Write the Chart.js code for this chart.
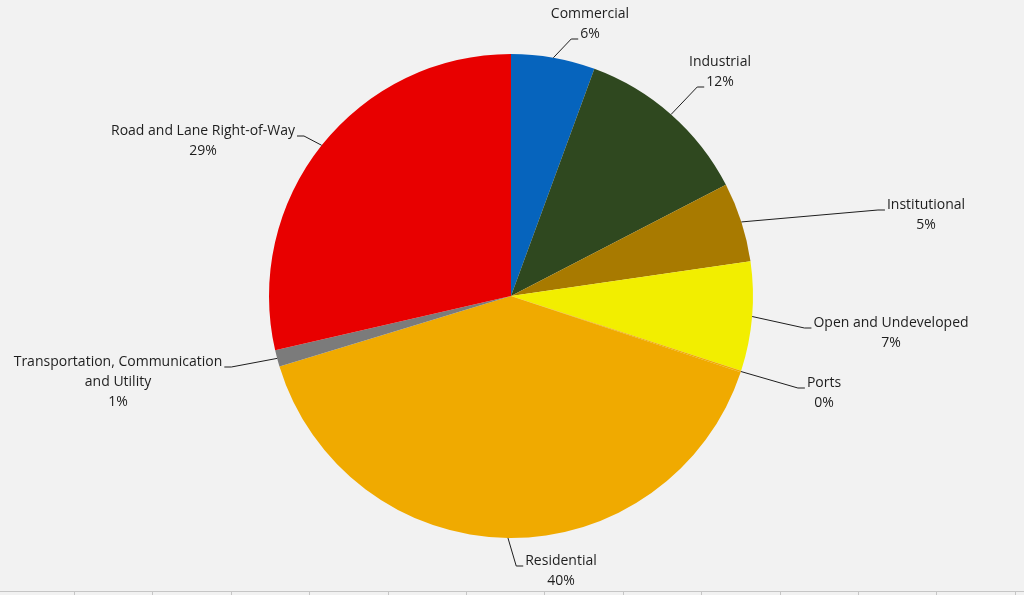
<!DOCTYPE html>
<html>
<head>
<meta charset="utf-8">
<script src="https://cdn.jsdelivr.net/npm/chart.js@4/dist/chart.umd.min.js"></script>
<style>
  html, body { margin: 0; padding: 0; background: #f2f2f2; }
  #wrap { position: relative; width: 1024px; height: 595px; overflow: hidden; }
  #grid {
    position: absolute; left: 0; top: 591px; width: 1024px; height: 4px;
    border-top: 1px solid #c6c6c6;
    background: repeating-linear-gradient(to right, transparent 0, transparent 74px, #c6c6c6 74px, #c6c6c6 75px, transparent 75px, transparent 78.4px);
  }
</style>
</head>
<body>
<div id="wrap">
  <canvas id="landUseChart" width="1024" height="595"></canvas>
  <div id="grid"></div>
</div>
<script>
// land use categories, clockwise from 12 o'clock
const categories = ['Commercial', 'Industrial', 'Institutional', 'Open and Undeveloped', 'Ports',
    'Residential', 'Transportation, Communication and Utility', 'Road and Lane Right-of-Way'];
const shares = [5.6, 11.8, 5.3, 7.3, 0.1, 40.2, 1.1, 28.6];
const percentLabels = ['6%', '12%', '5%', '7%', '0%', '40%', '1%', '29%'];
const sliceColors = ['#0664bd', '#2f481f', '#a87a00', '#f2ee00', '#f0aa00', '#f0aa00', '#7b7b7b', '#e80000'];

// label text lines (category name may wrap) and where each label sits relative to pie centre
const labelLines = [['Commercial'], ['Industrial'], ['Institutional'], ['Open and Undeveloped'], ['Ports'],
    ['Residential'], ['Transportation, Communication', 'and Utility'], ['Road and Lane Right-of-Way']];
const labelOffsets = [[79, -282], [209, -234], [415, -91], [380, 27], [313, 87], [50, 265], [-393, 66], [-308, -165]];
const leaderLine = [1, 1, 0, 0, 0, 0, 0, 0];

const labelPlugin = {
    id: 'pieLabels',
    afterDraw(chart) {
        const ctx = chart.ctx;
        const arcs = chart.getDatasetMeta(0).data;
        const lineH = 20;
        ctx.save();
        ctx.font = '14px "Open Sans", "Liberation Sans", sans-serif';
        ctx.fillStyle = '#1e1e1e';
        ctx.strokeStyle = '#1e1e1e';
        ctx.lineWidth = 1;
        ctx.textAlign = 'center';
        ctx.textBaseline = 'middle';
        arcs.forEach((arc, i) => {
            const { x, y, outerRadius, startAngle, endAngle } = arc.getProps(['x', 'y', 'outerRadius', 'startAngle', 'endAngle'], true);
            const mid = (startAngle + endAngle) / 2;
            const ax = x + Math.cos(mid) * outerRadius;
            const ay = y + Math.sin(mid) * outerRadius;
            const lines = labelLines[i].concat([percentLabels[i]]);
            const cx = x + labelOffsets[i][0];
            const cy0 = y + labelOffsets[i][1];
            lines.forEach((t, k) => ctx.fillText(t, cx, cy0 + k * lineH));

            // leader line to the attached text line
            const k = leaderLine[i];
            const w = ctx.measureText(lines[k]).width;
            const onRight = cx > x;
            const ex = onRight ? cx - w / 2 - 2 : cx + w / 2 + 2;
            const ey = cy0 + k * lineH + 5;
            const elbow = onRight ? ex - 7 : ex + 7;
            ctx.beginPath();
            ctx.moveTo(ax, ay);
            ctx.lineTo(elbow, ey);
            ctx.lineTo(ex, ey);
            ctx.stroke();
        });
        ctx.restore();
    }
};

new Chart(document.getElementById('landUseChart'), {
    type: 'pie',
    data: {
        labels: categories,
        datasets: [{
            data: shares,
            backgroundColor: sliceColors,
            borderWidth: 0
        }]
    },
    options: {
        responsive: false,
        animation: false,
        layout: { padding: { top: 54, bottom: 57, left: 0, right: 2 } },
        plugins: {
            legend: { display: false },
            tooltip: { enabled: false }
        }
    },
    plugins: [labelPlugin]
});
</script>
</body>
</html>
